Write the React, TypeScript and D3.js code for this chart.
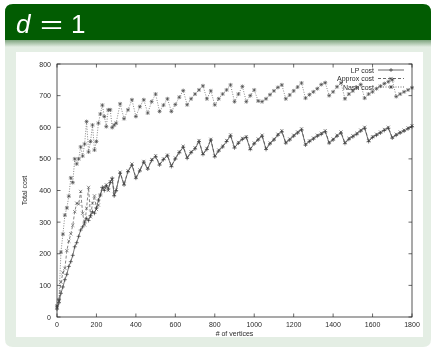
import { useEffect, useRef } from 'react'
import * as d3 from 'd3'

// sampled vertex counts (dense at the start, then every 20)
const vertices = [
  0, 10, 20, 30, 40, 50, 60, 70, 80, 90, 100, 110, 120, 130, 140, 150, 160, 170, 180, 190,
  200, 210, 220, 230, 240, 250, 260, 270, 280, 290, 300,
  320, 340, 360, 380, 400, 420, 440, 460, 480, 500, 520, 540, 560, 580, 600, 620, 640, 660, 680,
  700, 720, 740, 760, 780, 800, 820, 840, 860, 880, 900, 920, 940, 960, 980, 1000, 1020, 1040,
  1060, 1080, 1100, 1120, 1140, 1160, 1180, 1200, 1220, 1240, 1260, 1280, 1300, 1320, 1340,
  1360, 1380, 1400, 1420, 1440, 1460, 1480, 1500, 1520, 1540, 1560, 1580, 1600, 1620, 1640,
  1660, 1680, 1700, 1720, 1740, 1760, 1780, 1800,
]

const lpCost = [
  25, 45, 75, 95, 118, 135, 160, 175, 195, 222, 235, 255, 275, 285, 300, 312, 305, 320, 333, 328,
  345, 370, 386, 410, 400, 415, 405, 425, 439, 383, 400,
  455, 418, 460, 480, 439, 462, 490, 468, 495, 507, 481, 498, 510, 476, 500, 520, 537, 502, 520,
  532, 555, 514, 530, 560, 507, 525, 538, 555, 573, 535, 550, 562, 568, 530, 548, 560, 572,
  530, 548, 560, 575, 586, 550, 560, 572, 582, 592, 544, 555, 563, 572, 578,
  586, 550, 560, 572, 582, 549, 562, 570, 578, 588, 597, 555, 568, 575, 582,
  590, 597, 566, 575, 582, 588, 595, 602,
]

const approxCost = [
  30, 50, 110, 140, 154, 210, 240, 263, 290, 333, 360, 357, 397, 328, 291, 344, 410, 317, 360, 383,
  340, 354, 386, 405, 410, 418, 400, 428, 436, 388, 402,
  458, 420, 462, 484, 441, 465, 492, 470, 498, 510, 483, 500, 512, 478, 503, 522, 540, 505, 522,
  535, 558, 516, 533, 562, 509, 528, 540, 558, 576, 537, 552, 565, 570, 532, 550, 563, 575,
  533, 550, 562, 578, 589, 552, 563, 575, 585, 595, 546, 557, 566, 575, 581,
  589, 552, 563, 575, 585, 551, 565, 573, 581, 591, 600, 557, 570, 578, 585,
  593, 600, 568, 578, 585, 591, 598, 605,
]

const nashCost = [
  35, 55, 205, 262, 322, 345, 382, 440, 425, 500, 484, 500, 538, 509, 547, 618, 522, 555, 607, 528,
  555, 613, 642, 670, 634, 602, 655, 655, 599, 607, 613,
  674, 627, 655, 687, 634, 665, 687, 645, 681, 705, 650, 670, 690, 650, 672, 695, 716, 671, 690,
  705, 718, 731, 690, 715, 671, 690, 705, 718, 734, 681, 705, 729, 681, 700, 718, 683, 681,
  690, 703, 715, 726, 734, 690, 702, 715, 727, 740, 692, 703, 712, 722, 735,
  741, 700, 712, 728, 740, 690, 705, 715, 725, 735, 692, 705, 712, 722, 730,
  738, 744, 750, 697, 705, 712, 718, 725,
]

const seriesNames = ['LP cost', 'Approx cost', 'Nash cost']
const xTicks = [0, 200, 400, 600, 800, 1000, 1200, 1400, 1600, 1800]
const yTicks = [0, 100, 200, 300, 400, 500, 600, 700, 800]

const W = 433
const H = 349
const font = '"Liberation Sans", Arial, sans-serif'

export default function App() {
  const svgRef = useRef<SVGSVGElement>(null)

  useEffect(() => {
    if (!svgRef.current) return
    const svg = d3.select(svgRef.current)
    svg.selectAll('*').remove()

    // ---- slide frame ----
    const defs = svg.append('defs')
    const grad = defs.append('linearGradient')
      .attr('id', 'shade').attr('x1', 0).attr('x2', 0).attr('y1', 0).attr('y2', 1)
    grad.append('stop').attr('offset', '0%').attr('stop-color', '#6f9a6f')
    grad.append('stop').attr('offset', '100%').attr('stop-color', '#e4eee4')

    const bx0 = 5, bx1 = 431, r = 8
    // body block with rounded bottom
    svg.append('path')
      .attr('d', `M${bx0},40 H${bx1} V${347 - r} Q${bx1},347 ${bx1 - r},347 H${bx0 + r} Q${bx0},347 ${bx0},${347 - r} Z`)
      .attr('fill', '#e4eee4')
    svg.append('rect')
      .attr('x', bx0).attr('y', 39).attr('width', bx1 - bx0).attr('height', 8)
      .attr('fill', 'url(#shade)')
    // header with rounded top
    svg.append('path')
      .attr('d', `M${bx0},40 V${4 + r} Q${bx0},4 ${bx0 + r},4 H${bx1 - r} Q${bx1},4 ${bx1},${4 + r} V40 Z`)
      .attr('fill', '#025c02')

    const titleText = (x0: number, s: string, italic = false) =>
      svg.append('text')
        .attr('x', x0).attr('y', 33)
        .attr('fill', 'white')
        .attr('font-family', font)
        .attr('font-size', 26)
        .attr('font-style', italic ? 'italic' : 'normal')
        .text(s)
    titleText(16, 'd', true)
    titleText(40, '=')
      .attr('textLength', 23).attr('lengthAdjust', 'spacingAndGlyphs')
    titleText(71, '1')

    // white picture area
    svg.append('rect')
      .attr('x', 16).attr('y', 52).attr('width', 407).attr('height', 285)
      .attr('fill', 'white')

    // ---- gnuplot chart ----
    const left = 57, right = 412, top = 64, bottom = 317
    const x = d3.scaleLinear().domain([0, 1800]).range([left, right])
    const y = d3.scaleLinear().domain([0, 800]).range([bottom, top])
    const ink = '#2a2a2a'
    const fs = 7

    const g = svg.append('g')

    // ticks on all four sides
    g.selectAll('.xt').data(xTicks).enter().append('path')
      .attr('d', d => `M${x(d)},${bottom}v-3.5M${x(d)},${top}v3.5`)
      .attr('stroke', ink).attr('stroke-width', 0.7)
    g.selectAll('.yt').data(yTicks).enter().append('path')
      .attr('d', d => `M${left},${y(d)}h3.5M${right},${y(d)}h-3.5`)
      .attr('stroke', ink).attr('stroke-width', 0.7)

    g.selectAll('.xl').data(xTicks).enter().append('text')
      .attr('x', d => x(d)).attr('y', bottom + 9.5)
      .attr('text-anchor', 'middle')
      .attr('font-family', font).attr('font-size', fs).attr('fill', ink)
      .text(d => d)
    g.selectAll('.yl').data(yTicks).enter().append('text')
      .attr('x', left - 6).attr('y', d => y(d) + 2.5)
      .attr('text-anchor', 'end')
      .attr('font-family', font).attr('font-size', fs).attr('fill', ink)
      .text(d => d)

    g.append('text')
      .attr('x', (left + right) / 2).attr('y', 335.5)
      .attr('text-anchor', 'middle')
      .attr('font-family', font).attr('font-size', fs).attr('fill', ink)
      .text('# of vertices')
    g.append('text')
      .attr('transform', `translate(27,${(top + bottom) / 2}) rotate(-90)`)
      .attr('text-anchor', 'middle')
      .attr('font-family', font).attr('font-size', fs).attr('fill', ink)
      .text('Total cost')

    // series
    const plus = 'M-2,0H2M0,-2V2'
    const cross = 'M-1.6,-1.6L1.6,1.6M-1.6,1.6L1.6,-1.6'
    const star = plus + cross
    const styles = [
      { values: lpCost, dash: null, mark: plus, color: ink },
      { values: approxCost, dash: '3,2', mark: cross, color: '#444' },
      { values: nashCost, dash: '1,1.5', mark: star, color: '#444' },
    ]

    const line = d3.line<number>()
      .x((_, i) => x(vertices[i]))
      .y(d => y(d))

    styles.forEach(s => {
      g.append('path')
        .attr('d', line(s.values))
        .attr('fill', 'none')
        .attr('stroke', s.color)
        .attr('stroke-width', 0.65)
        .attr('stroke-dasharray', s.dash)
      g.append('g').selectAll('path').data(s.values).enter().append('path')
        .attr('transform', (d, i) => `translate(${x(vertices[i])},${y(d)})`)
        .attr('d', s.mark)
        .attr('stroke', s.color)
        .attr('stroke-width', 0.6)
        .attr('fill', 'none')
    })

    // legend
    const lg = g.append('g')
    seriesNames.forEach((name, i) => {
      const ly = 70 + i * 8.5
      lg.append('text')
        .attr('x', 374).attr('y', ly + 2.5)
        .attr('text-anchor', 'end')
        .attr('font-family', font).attr('font-size', fs).attr('fill', ink)
        .text(name)
      lg.append('line')
        .attr('x1', 378).attr('x2', 404).attr('y1', ly).attr('y2', ly)
        .attr('stroke', ink).attr('stroke-width', 0.7)
        .attr('stroke-dasharray', styles[i].dash)
      lg.append('path')
        .attr('transform', `translate(391,${ly})`)
        .attr('d', styles[i].mark)
        .attr('stroke', ink).attr('stroke-width', 0.6)
    })

    // border
    g.append('rect')
      .attr('x', left).attr('y', top)
      .attr('width', right - left).attr('height', bottom - top)
      .attr('fill', 'none').attr('stroke', ink).attr('stroke-width', 0.8)
  }, [])

  return (
    <div style={{ position: 'fixed', left: 0, top: 0 }}>
      <svg ref={svgRef} width={W} height={H} style={{ display: 'block' }} />
    </div>
  )
}
